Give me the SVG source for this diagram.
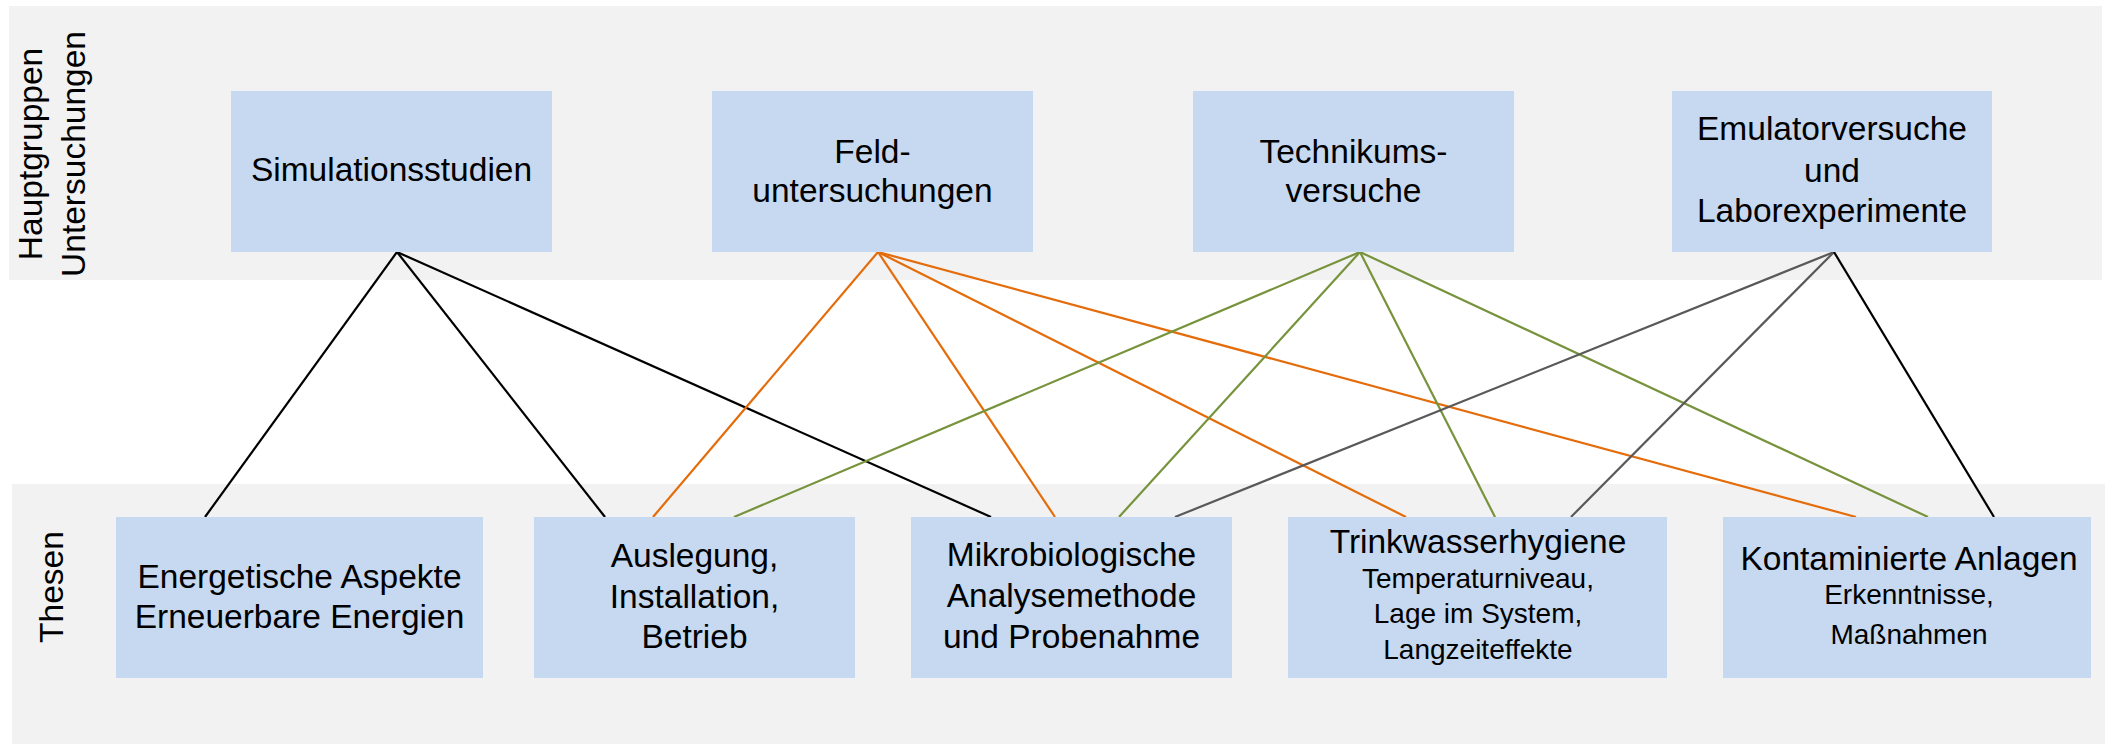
<svg xmlns="http://www.w3.org/2000/svg" width="2105" height="746" viewBox="0 0 2105 746">
<style>
.band{fill:#F2F2F2}
.box{fill:#C6D9F0}
.t{font-family:"Liberation Sans",Arial,sans-serif;font-size:33.5px;fill:#000;text-anchor:middle}
.s{font-size:28px}
.c{fill:none;stroke-width:2.2}
.k{stroke:#000}
.o{stroke:#E46C0A}
.g{stroke:#77933C}
.y{stroke:#595959}
</style>
<rect class="band" x="9" y="6" width="2093" height="274"/>
<rect class="band" x="12" y="484" width="2093" height="260"/>
<text class="t" transform="translate(42,154) rotate(-90)">Hauptgruppen</text>
<text class="t" transform="translate(85,154) rotate(-90)">Untersuchungen</text>
<text class="t" transform="translate(63,587) rotate(-90)">Thesen</text>
<g id="connectors">
<line class="c k" x1="397" y1="252" x2="205" y2="517"/>
<line class="c k" x1="397" y1="252" x2="605" y2="517"/>
<line class="c k" x1="397" y1="252" x2="991" y2="517"/>
<line class="c o" x1="878" y1="252" x2="653" y2="517"/>
<line class="c o" x1="878" y1="252" x2="1055" y2="517"/>
<line class="c o" x1="878" y1="252" x2="1406" y2="517"/>
<line class="c o" x1="878" y1="252" x2="1856" y2="517"/>
<line class="c g" x1="1360" y1="252" x2="734" y2="517"/>
<line class="c g" x1="1360" y1="252" x2="1119" y2="517"/>
<line class="c g" x1="1360" y1="252" x2="1495" y2="517"/>
<line class="c g" x1="1360" y1="252" x2="1928" y2="517"/>
<line class="c y" x1="1834" y1="252" x2="1175" y2="517"/>
<line class="c y" x1="1834" y1="252" x2="1571" y2="517"/>
<line class="c k" x1="1834" y1="252" x2="1994" y2="517"/>
</g>
<g id="n-simulation">
<rect class="box" x="231" y="91" width="321" height="161"/>
<text class="t" x="391.5" y="181">Simulationsstudien</text>
</g>
<g id="n-feld">
<rect class="box" x="712" y="91" width="321" height="161"/>
<text class="t" x="872.5" y="162.5">Feld-</text>
<text class="t" x="872.5" y="201.5">untersuchungen</text>
</g>
<g id="n-technikum">
<rect class="box" x="1193" y="91" width="321" height="161"/>
<text class="t" x="1353.5" y="162.5">Technikums-</text>
<text class="t" x="1353.5" y="201.5">versuche</text>
</g>
<g id="n-emulator">
<rect class="box" x="1672" y="91" width="320" height="161"/>
<text class="t" x="1832" y="140">Emulatorversuche</text>
<text class="t" x="1832" y="181.5">und</text>
<text class="t" x="1832" y="221.5">Laborexperimente</text>
</g>
<g id="n-energie">
<rect class="box" x="116" y="517" width="367" height="161"/>
<text class="t" x="299.5" y="587.5">Energetische Aspekte</text>
<text class="t" x="299.5" y="627.5">Erneuerbare Energien</text>
</g>
<g id="n-auslegung">
<rect class="box" x="534" y="517" width="321" height="161"/>
<text class="t" x="694.5" y="566.5">Auslegung,</text>
<text class="t" x="694.5" y="607.5">Installation,</text>
<text class="t" x="694.5" y="648">Betrieb</text>
</g>
<g id="n-mikro">
<rect class="box" x="911" y="517" width="321" height="161"/>
<text class="t" x="1071.5" y="566">Mikrobiologische</text>
<text class="t" x="1071.5" y="606.5">Analysemethode</text>
<text class="t" x="1071.5" y="647.5">und Probenahme</text>
</g>
<g id="n-trinkwasser">
<rect class="box" x="1288" y="517" width="379" height="161"/>
<text class="t" x="1478" y="553">Trinkwasserhygiene</text>
<text class="t s" x="1478" y="588">Temperaturniveau,</text>
<text class="t s" x="1478" y="623">Lage im System,</text>
<text class="t s" x="1478" y="659">Langzeiteffekte</text>
</g>
<g id="n-kontaminiert">
<rect class="box" x="1723" y="517" width="368" height="161"/>
<text class="t" x="1909" y="570">Kontaminierte Anlagen</text>
<text class="t s" x="1909" y="604">Erkenntnisse,</text>
<text class="t s" x="1909" y="644">Maßnahmen</text>
</g>
</svg>
